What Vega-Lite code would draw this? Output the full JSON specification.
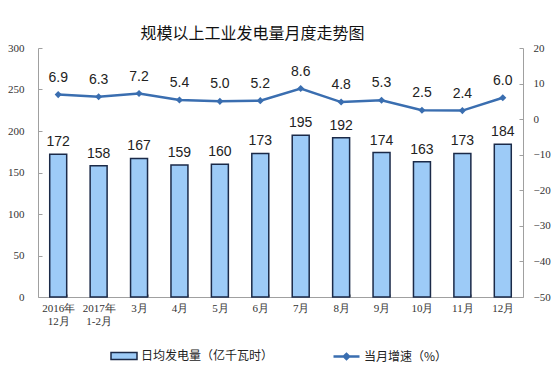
{
  "$schema": "https://vega.github.io/schema/vega-lite/v6.json",
  "width": 485,
  "height": 249,
  "autosize": {"type": "none"},
  "padding": {"left": 38, "top": 48, "right": 33, "bottom": 82},
  "background": "white",
  "title": {
    "text": "规模以上工业发电量月度走势图",
    "font": "Noto Sans CJK SC",
    "fontSize": 16,
    "fontWeight": "normal",
    "color": "#111",
    "anchor": "middle",
    "dx": -28,
    "offset": 0
  },
  "config": {
    "view": {"stroke": null},
    "axis": {
      "grid": false,
      "domainColor": "#a0a0a0",
      "tickColor": "#a0a0a0",
      "labelColor": "#333",
      "labelFont": "Liberation Serif",
      "labelFontSize": 11,
      "labelOverlap": false,
      "titleFontSize": 0
    }
  },
  "data": {
    "values": [
      {"m": "2016年|12月", "gen": 172, "pct": 6.9},
      {"m": "2017年|1-2月", "gen": 158, "pct": 6.3},
      {"m": "3月", "gen": 167, "pct": 7.2},
      {"m": "4月", "gen": 159, "pct": 5.4},
      {"m": "5月", "gen": 160, "pct": 5.0},
      {"m": "6月", "gen": 173, "pct": 5.2},
      {"m": "7月", "gen": 195, "pct": 8.6},
      {"m": "8月", "gen": 192, "pct": 4.8},
      {"m": "9月", "gen": 174, "pct": 5.3},
      {"m": "10月", "gen": 163, "pct": 2.5},
      {"m": "11月", "gen": 173, "pct": 2.4},
      {"m": "12月", "gen": 184, "pct": 6.0}
    ]
  },
  "encoding": {
    "x": {
      "field": "m",
      "type": "nominal",
      "sort": null,
      "title": null,
      "scale": {"paddingInner": 0.58, "paddingOuter": 0.29},
      "axis": {
        "labelAngle": 0,
        "labelExpr": "isValid(datum.value) ? split(datum.value, '|') : ''",
        "tickBand": "extent",
        "tickSize": -3,
        "labelPadding": 8,
        "labelBaseline": "top"
      }
    }
  },
  "layer": [
    {
      "encoding": {
        "y": {
          "field": "gen",
          "type": "quantitative",
          "title": null,
          "scale": {"domain": [0, 300]},
          "axis": {"values": [0, 50, 100, 150, 200, 250, 300], "tickSize": -4, "labelPadding": 18, "orient": "left", "labelOverlap": false}
        }
      },
      "layer": [
        {
          "mark": {"type": "bar", "stroke": "#1b2a48", "strokeWidth": 1.5},
          "encoding": {
            "fill": {
              "datum": "日均发电量（亿千瓦时）",
              "scale": {"range": ["#9DCBF7"]},
              "legend": {
                "title": null,
                "orient": "none",
                "legendX": 72,
                "legendY": 294,
                "symbolType": "M-1,-0.27H1V0.27H-1Z",
                "symbolSize": 676,
                "symbolStrokeColor": "#1b2a48",
                "symbolStrokeWidth": 1.5,
                "symbolFillColor": "#9DCBF7",
                "labelFont": "Noto Sans CJK SC",
                "labelFontSize": 12,
                "labelColor": "#222",
                "labelOffset": 3
              }
            }
          }
        },
        {
          "mark": {"type": "text", "baseline": "bottom", "dy": -5, "font": "Liberation Sans", "fontSize": 14, "color": "#222"},
          "encoding": {
            "text": {"field": "gen", "type": "quantitative"}
          }
        }
      ]
    },
    {
      "encoding": {
        "y": {
          "field": "pct",
          "type": "quantitative",
          "title": null,
          "scale": {"domain": [-50, 20]},
          "axis": {"values": [-50, -40, -30, -20, -10, 0, 10, 20], "orient": "right", "tickSize": -4, "labelPadding": 14, "labelOverlap": false}
        }
      },
      "layer": [
        {
          "mark": {"type": "line", "strokeWidth": 2.5},
          "encoding": {
            "stroke": {
              "datum": "当月增速（%）",
              "scale": {"range": ["#3A6EB0"]},
              "legend": {
                "title": null,
                "orient": "none",
                "legendX": 294,
                "legendY": 294,
                "symbolType": "M-1,0H1M-0.2,0L0,-0.2L0.2,0L0,0.2Z",
                "symbolSize": 676,
                "symbolStrokeWidth": 2.5,
                "symbolStrokeColor": "#3A6EB0",
                "symbolFillColor": "#3A6EB0",
                "labelFont": "Noto Sans CJK SC",
                "labelFontSize": 12,
                "labelColor": "#222",
                "labelOffset": 3
              }
            }
          }
        },
        {
          "mark": {"type": "point", "shape": "diamond", "filled": true, "size": 50, "color": "#3A6EB0", "opacity": 1}
        },
        {
          "mark": {"type": "text", "baseline": "bottom", "dy": -10, "font": "Liberation Sans", "fontSize": 14, "color": "#222"},
          "encoding": {
            "text": {"field": "pct", "type": "quantitative", "format": ".1f"}
          }
        }
      ]
    }
  ],
  "resolve": {"scale": {"y": "independent"}}
}
